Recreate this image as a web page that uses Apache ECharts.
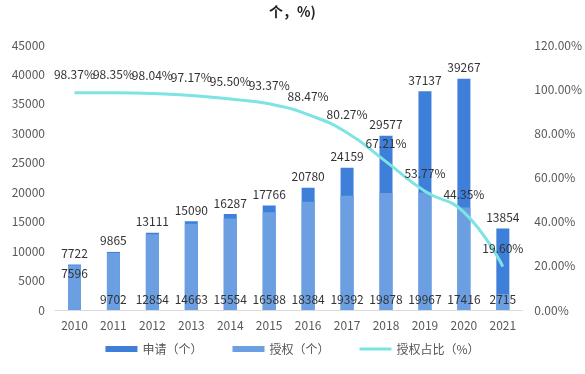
<!DOCTYPE html>
<html><head><meta charset="utf-8">
<script src="https://cdn.jsdelivr.net/npm/echarts@6/dist/echarts.min.js"></script>
<style>html,body{margin:0;padding:0;background:#fff}#c{width:585px;height:374px}</style>
</head><body><div id="c"></div>
<script>
const years = ['2010','2011','2012','2013','2014','2015','2016','2017','2018','2019','2020','2021'];
const applications = [7722, 9865, 13111, 15090, 16287, 17766, 20780, 24159, 29577, 37137, 39267, 13854];
const grants = [7596, 9702, 12854, 14663, 15554, 16588, 18384, 19392, 19878, 19967, 17416, 2715];
const grantRatio = [98.37, 98.35, 98.04, 97.17, 95.50, 93.37, 88.47, 80.27, 67.21, 53.77, 44.35, 19.60];
const leftTicks = {min: 0, max: 45000, interval: 5000};
const rightTicks = {min: 0, max: 120, interval: 20};

const font = '"Microsoft YaHei","Noto Sans CJK SC","Noto Sans",sans-serif';
const chart = echarts.init(document.getElementById('c'));
chart.setOption({
  animation: false,
  textStyle: {fontFamily: font},
  title: {text: '个，%)', left: 'center', top: 0,
    textStyle: {fontSize: 14, fontWeight: 'bold', color: '#222', fontFamily: font}},
  grid: {left: 55, right: 57, top: 45, bottom: 64},
  legend: {
    bottom: 14, left: 'center', itemGap: 30, itemWidth: 32, itemHeight: 6,
    textStyle: {fontSize: 12, color: '#555', fontFamily: font},
    data: [{name: '申请（个）', icon: 'rect'}, {name: '授权（个）', icon: 'rect'},
           {name: '授权占比（%）', icon: 'path://M0,0 L30,0 L30,3 L0,3 Z'}]
  },
  xAxis: {
    type: 'category', data: years,
    axisLine: {lineStyle: {color: '#d9d9d9'}}, axisTick: {show: false},
    axisLabel: {color: '#595959', fontSize: 12, margin: 9}
  },
  yAxis: [
    {type: 'value', ...leftTicks, splitLine: {show: false}, axisLine: {show: false},
     axisTick: {show: false}, axisLabel: {color: '#595959', fontSize: 12, margin: 10,
       formatter: v => String(v)}},
    {type: 'value', ...rightTicks, splitLine: {show: false}, axisLine: {show: false},
     axisTick: {show: false}, axisLabel: {color: '#595959', fontSize: 12, margin: 12,
       formatter: v => v.toFixed(2) + '%'}}
  ],
  series: [
    {name: '申请（个）', type: 'bar', data: applications, barWidth: 13, barGap: '-100%',
     itemStyle: {color: '#3d7fd9'},
     label: {show: true, position: 'top', color: '#333', fontSize: 12, distance: 5}},
    {name: '授权（个）', type: 'bar', data: grants.map((v, i) => i === 0 ?
       {value: v, label: {position: 'insideTop', distance: 2}} : v), barWidth: 13,
     itemStyle: {color: '#6b9fe2'},
     label: {show: true, position: 'insideBottom', color: '#333', fontSize: 12, distance: 5}},
    {name: '授权占比（%）', type: 'line', yAxisIndex: 1, data: grantRatio, smooth: true,
     symbol: 'circle', symbolSize: 0.1, showSymbol: true,
     lineStyle: {color: '#7de3e3', width: 3}, itemStyle: {color: '#7de3e3'},
     label: {show: true, position: 'top', distance: 12, color: '#333', fontSize: 12,
       formatter: p => p.value.toFixed(2) + '%'}}
  ]
});
</script></body></html>
